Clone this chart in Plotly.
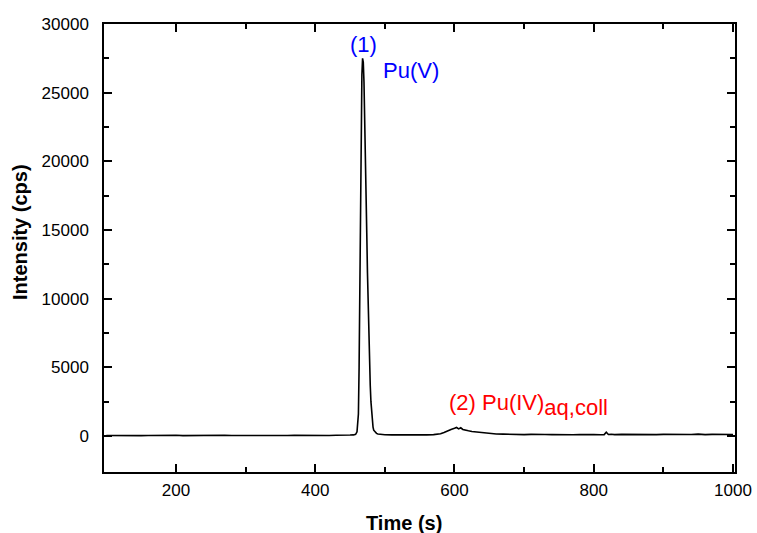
import plotly.graph_objects as go

time_s = [100, 110, 120, 130, 140, 150, 160, 170, 180, 190, 200, 210, 220, 230, 240, 250,
          260, 270, 280, 290, 300, 310, 320, 330, 340, 350, 360, 370, 380, 390, 400, 410,
          420, 430, 440, 450, 455, 458, 460, 462, 463, 464, 465, 466, 467, 468, 469, 470,
          471, 472, 473, 474, 475, 476, 477, 478, 479, 480, 481, 482, 483, 484, 486, 488,
          490, 495, 500, 510, 520, 530, 540, 550, 560, 570, 580, 585, 590, 595, 600, 603,
          606, 609, 612, 615, 620, 625, 630, 635, 640, 650, 660, 670, 680, 690, 700, 710,
          720, 730, 740, 750, 760, 770, 780, 790, 800, 810, 815, 818, 821, 825, 830, 840,
          850, 860, 870, 880, 890, 900, 910, 920, 930, 940, 950, 960, 970, 980, 990, 1000]
intensity = [40, 30, 50, 35, 45, 30, 40, 55, 35, 45, 50, 30, 40, 55, 35, 45,
             30, 50, 40, 35, 55, 40, 30, 45, 50, 35, 40, 55, 45, 30, 40, 50,
             35, 60, 45, 70, 80, 120, 300, 1600, 5000, 11500, 18500, 23500, 26300, 27500, 27200, 25800,
             23600, 20800, 17800, 14800, 11900, 9400, 7100, 5200, 3700, 2500, 1600, 1000, 650, 420, 260, 190,
             150, 110, 90, 80, 70, 75, 60, 70, 80, 100, 160, 250, 380, 480, 560, 620,
             520, 600, 480, 430, 380, 330, 300, 260, 220, 180, 150, 140, 120, 110, 100, 120,
             90, 110, 100, 80, 70, 90, 100, 120, 110, 90, 100, 270, 110, 130, 100, 120,
             110, 90, 130, 110, 100, 120, 110, 90, 120, 110, 140, 100, 120, 110, 90, 110]

x_ticks = [200, 400, 600, 800, 1000]
x_ticktext = ["200", "400", "600", "800", "1000"]
y_ticks = [0, 5000, 10000, 15000, 20000, 25000, 30000]
y_ticktext = ["0", "5000", "10000", "15000", "20000", "25000", "30000"]

FONT = "Liberation Sans, Arial"

fig = go.Figure()
fig.add_trace(go.Scatter(x=time_s, y=intensity, mode="lines",
                         line=dict(color="black", width=1.6), showlegend=False))

axis_common = dict(showline=True, linecolor="black", linewidth=1.5, mirror="ticks",
                   ticks="inside", ticklen=8, tickwidth=1.5, tickcolor="black",
                   showgrid=False, zeroline=False, automargin=False,
                   tickfont=dict(family=FONT, size=17, color="black"))

fig.update_xaxes(range=[96.6, 1002.9], tickvals=x_ticks, ticktext=x_ticktext,
                 minor=dict(tickvals=[300, 500, 700, 900], ticks="inside", ticklen=5,
                            tickcolor="black", tickwidth=1.5),
                 ticklabelstandoff=2,
                 **axis_common)
fig.update_yaxes(range=[-2621, 30000], tickvals=y_ticks, ticktext=y_ticktext,
                 minor=dict(tickvals=[2500, 7500, 12500, 17500, 22500, 27500], ticks="inside",
                            ticklen=5, tickcolor="black", tickwidth=1.5),
                 ticklabelstandoff=10,
                 **axis_common)

# axis titles (placed as in the reference, slightly off-centre)
fig.add_annotation(xref="paper", yref="paper", x=0.4754, y=-0.1138, text="<b>Time (s)</b>",
                   xanchor="center", yanchor="middle",
                   showarrow=False, font=dict(family=FONT, size=20, color="black"))
fig.add_annotation(xref="paper", yref="paper", x=-0.1331, y=0.5357, text="<b>Intensity (cps)</b>",
                   xanchor="center", yanchor="middle",
                   textangle=-90, showarrow=False, font=dict(family=FONT, size=20, color="black"))

fig.add_annotation(x=468.7, y=28544, text="(1)", showarrow=False,
                   font=dict(family=FONT, size=22, color="blue"))
fig.add_annotation(x=537.7, y=26650, text="Pu(V)", showarrow=False,
                   font=dict(family=FONT, size=22, color="blue"))
fig.add_annotation(x=589, y=2250, text='(2) Pu(IV)<sub><span style="font-size:22px">aq,coll</span></sub>',
                   showarrow=False, xanchor="left",
                   font=dict(family=FONT, size=22, color="red"))

fig.update_layout(width=757, height=533, plot_bgcolor="white", paper_bgcolor="white",
                  margin=dict(l=104, r=22, t=24, b=61))

fig.write_html("out.html")
